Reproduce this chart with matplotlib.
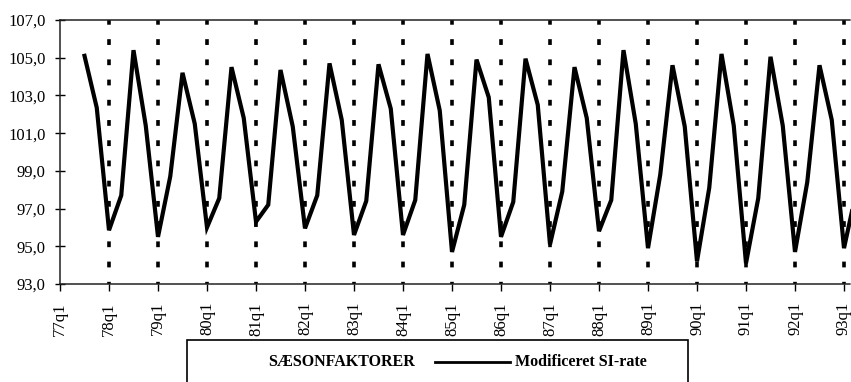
import matplotlib
matplotlib.use("Agg")
import matplotlib.pyplot as plt
from matplotlib.patches import Rectangle
from matplotlib.lines import Line2D

plt.rcParams["font.family"] = ["Liberation Serif", "DejaVu Serif"]

# Quarterly seasonal factors (modified SI-rate), 77q3 .. 93q2
first_quarter_index = 2  # 77q1 = 0
si_rate = [
    105.1, 102.35,                    # 1977 q3-q4
    95.85, 97.7, 105.4, 101.4,        # 1978
    95.5, 98.7, 104.2, 101.5,         # 1979
    96.0, 97.55, 104.5, 101.8,        # 1980
    96.3, 97.2, 104.35, 101.35,       # 1981
    95.95, 97.7, 104.7, 101.7,        # 1982
    95.6, 97.4, 104.65, 102.3,        # 1983
    95.6, 97.45, 105.2, 102.2,        # 1984
    94.7, 97.2, 104.9, 102.9,         # 1985
    95.5, 97.35, 104.95, 102.5,       # 1986
    95.1, 97.9, 104.5, 101.8,         # 1987
    95.8, 97.45, 105.4, 101.5,        # 1988
    94.9, 98.8, 104.6, 101.35,        # 1989
    94.2, 98.1, 105.2, 101.4,         # 1990
    94.1, 97.55, 105.05, 101.4,       # 1991
    94.7, 98.4, 104.6, 101.7,         # 1992
    94.9, 97.9,                       # 1993 q1-q2
]

years = list(range(77, 94))
tick_labels = [f"{y}q1" for y in years]
season_years = list(range(78, 94))  # vertical season markers at each q1

y_ticks = [93, 95, 97, 99, 101, 103, 105, 107]

W, H = 851, 382
fig = plt.figure(figsize=(W / 100, H / 100), dpi=100)
ax = fig.add_axes([60 / W, 1 - 284 / H, 1 - 60 / W, (284 - 20) / H])

# x positions in quarters since 77q1
xs = [first_quarter_index + i for i in range(len(si_rate))]
tick_pos = [(y - 77) * 4 for y in years]
season_pos = [(y - 77) * 4 for y in season_years]

ax.vlines(season_pos, 93, 107, colors="black", linewidth=2.6,
          linestyles=[(1.0, (1.6, 4.0))], zorder=2)
ax.plot(xs, si_rate, color="black", linewidth=3.0, solid_joinstyle="miter",
        zorder=3)

ax.set_xlim(0, (W - 60) / 12.25)
ax.set_ylim(93, 107)
ax.set_yticks(y_ticks)
ax.set_yticklabels([f"{v:.1f}".replace(".", ",") for v in y_ticks])
ax.set_xticks(tick_pos)
ax.set_xticklabels(tick_labels, rotation=90)

ax.tick_params(axis="y", direction="inout", length=7, width=1, pad=7,
               labelsize=12)
ax.tick_params(axis="x", direction="out", length=5, width=1, pad=8,
               labelsize=12)

ax.spines["right"].set_visible(False)
for side in ("left", "top", "bottom"):
    ax.spines[side].set_linestyle((0, (1, 1)))
    ax.spines[side].set_linewidth(1.1)
    ax.spines[side].set_color("#222222")

# Legend box below the axes
box_top = 1 - 340 / H
box = Rectangle((187 / W, -0.05), (688 - 187) / W, box_top + 0.05,
                transform=fig.transFigure, fill=False, edgecolor="black",
                linewidth=1.2, clip_on=False)
fig.patches.append(box)
ty = 1 - 362 / H
fig.text(268 / W, ty, "SÆSONFAKTORER", fontsize=11.5, fontweight="bold",
         ha="left", va="center")
fig.lines.append(Line2D([435 / W, 510 / W], [ty, ty], transform=fig.transFigure,
                        color="black", linewidth=2.0))
fig.text(515 / W, ty, "Modificeret SI-rate", fontsize=11.5, fontweight="bold",
         ha="left", va="center")

fig.savefig("out.png", dpi=100)
